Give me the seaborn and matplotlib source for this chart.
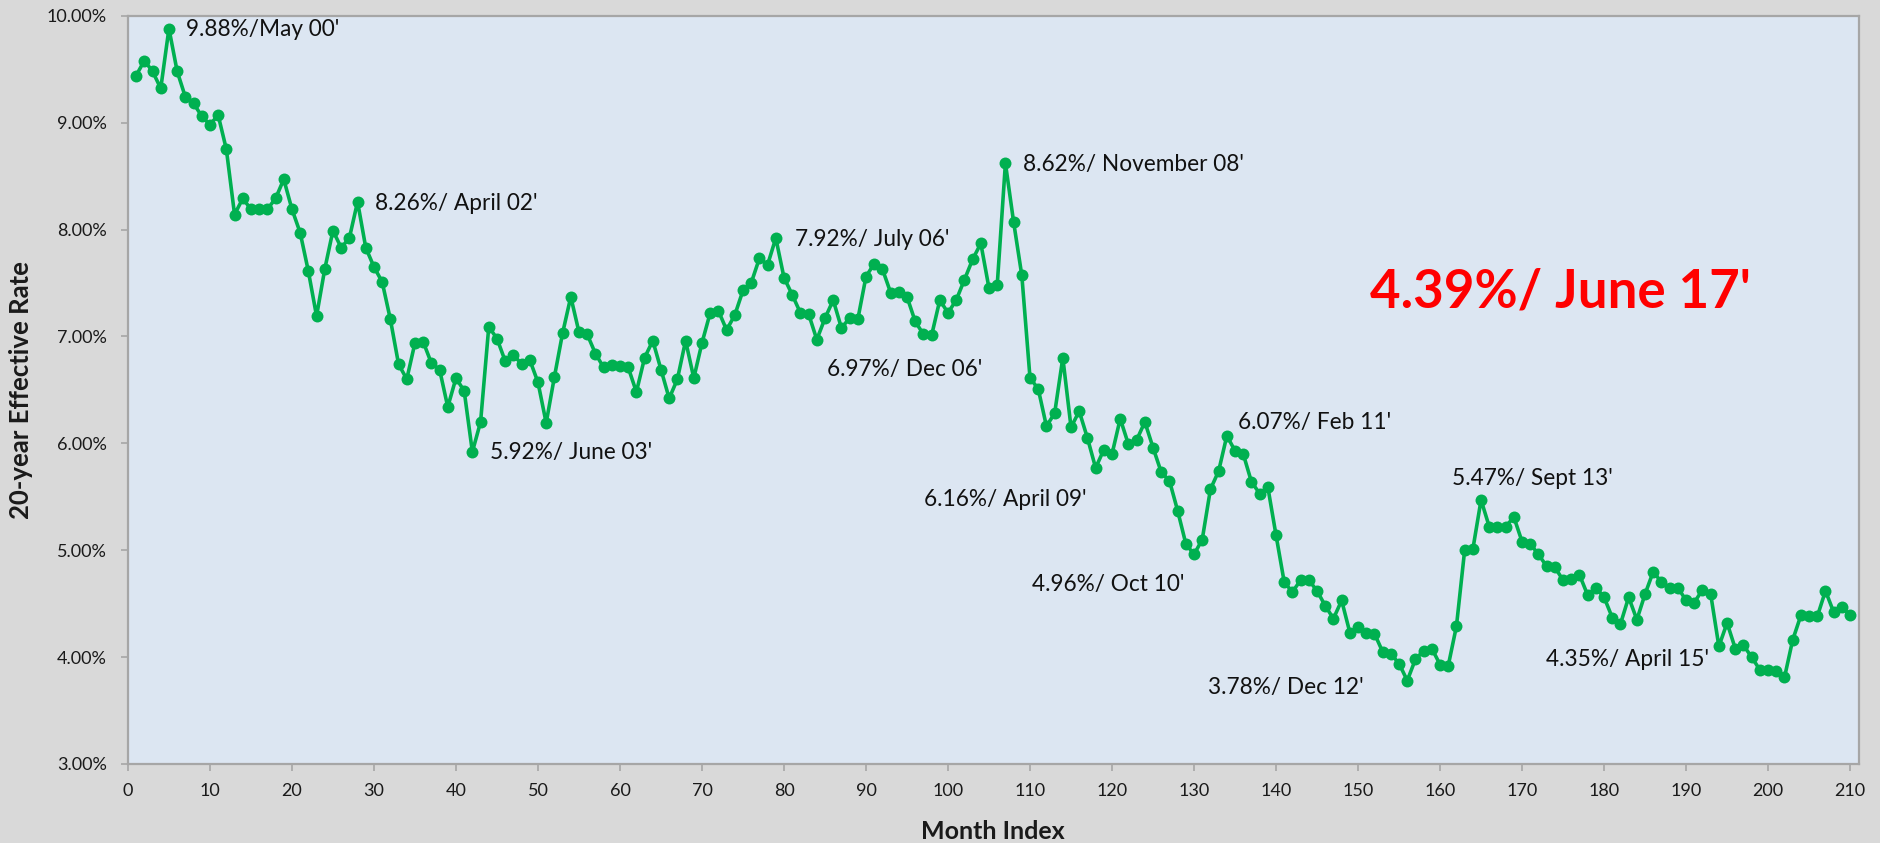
import matplotlib
matplotlib.use("Agg")
import matplotlib.pyplot as plt
import seaborn as sns
import numpy as np
import pandas as pd
from matplotlib.ticker import FuncFormatter

# ---------------- data ----------------
rates = [
    9.44, 9.58, 9.48, 9.32, 9.88, 9.48, 9.24, 9.18, 9.06, 8.98,
    9.07, 8.75, 8.14, 8.29, 8.19, 8.19, 8.19, 8.29, 8.47, 8.19,
    7.97, 7.61, 7.19, 7.63, 7.99, 7.83, 7.92, 8.26, 7.83, 7.65,
    7.51, 7.16, 6.74, 6.60, 6.94, 6.95, 6.75, 6.69, 6.34, 6.61,
    6.49, 5.92, 6.20, 7.09, 6.98, 6.77, 6.83, 6.74, 6.78, 6.57,
    6.19, 6.62, 7.03, 7.37, 7.04, 7.02, 6.84, 6.71, 6.73, 6.72,
    6.71, 6.48, 6.80, 6.96, 6.69, 6.42, 6.60, 6.96, 6.61, 6.94,
    7.22, 7.24, 7.06, 7.20, 7.43, 7.50, 7.73, 7.67, 7.92, 7.55,
    7.39, 7.22, 7.21, 6.97, 7.17, 7.34, 7.08, 7.17, 7.16, 7.56,
    7.68, 7.63, 7.41, 7.42, 7.37, 7.14, 7.02, 7.01, 7.34, 7.22,
    7.34, 7.53, 7.72, 7.87, 7.45, 7.48, 8.62, 8.07, 7.57, 6.61,
    6.51, 6.16, 6.28, 6.80, 6.15, 6.30, 6.05, 5.77, 5.94, 5.90,
    6.23, 5.99, 6.03, 6.20, 5.96, 5.73, 5.65, 5.37, 5.06, 4.96,
    5.10, 5.57, 5.74, 6.07, 5.93, 5.90, 5.64, 5.53, 5.59, 5.14,
    4.70, 4.61, 4.72, 4.72, 4.62, 4.48, 4.36, 4.53, 4.23, 4.28,
    4.23, 4.22, 4.05, 4.03, 3.94, 3.78, 3.98, 4.06, 4.08, 3.93,
    3.92, 4.29, 5.00, 5.01, 5.47, 5.22, 5.22, 5.22, 5.31, 5.08,
    5.06, 4.96, 4.85, 4.84, 4.72, 4.73, 4.77, 4.58, 4.65, 4.56,
    4.37, 4.31, 4.56, 4.35, 4.59, 4.80, 4.70, 4.65, 4.65, 4.53,
    4.51, 4.63, 4.59, 4.10, 4.32, 4.08, 4.11, 4.00, 3.88, 3.88,
    3.87, 3.81, 4.16, 4.39, 4.38, 4.38, 4.62, 4.42, 4.47, 4.39,
]
months = list(range(1, len(rates) + 1))

ann_texts = ["9.88%/May 00'", "8.26%/ April 02'", "5.92%/ June 03'",
             "7.92%/ July 06'", "6.97%/ Dec 06'", "8.62%/ November 08'",
             "6.16%/ April 09'", "4.96%/ Oct 10'", "6.07%/ Feb 11'",
             "3.78%/ Dec 12'", "5.47%/ Sept 13'", "4.35%/ April 15'"]
ann_x = [7.1, 30.1, 44.1, 81.3, 85.2, 109.2, 97.1, 110.3, 135.4, 131.7, 161.4, 172.9]
ann_y = [9.875, 8.24, 5.91, 7.91, 6.69, 8.61, 5.47, 4.675, 6.19, 3.715, 5.67, 3.98]

headline = "4.39%/ June 17'"
headline_x, headline_y = 151.5, 7.42

x_ticks = list(range(0, 211, 10))
y_ticks = [3, 4, 5, 6, 7, 8, 9, 10]

# ---------------- style ----------------
sns.set_theme(style="white")
plt.rcParams['font.family'] = ['Lato', 'DejaVu Sans']

W, H = 1881, 843
fig = plt.figure(figsize=(W / 100, H / 100), dpi=100, facecolor="#D9D9D9")
ax = fig.add_axes([127.7 / W, (H - 764) / H, (1858.7 - 127.7) / W, (764 - 15.7) / H])
ax.set_facecolor("#DCE6F2")

df = pd.DataFrame({"month": months, "rate": rates})
green = "#00B050"
sns.lineplot(data=df, x="month", y="rate", ax=ax, color=green, linewidth=2.6,
             marker="o", markersize=8.6, markeredgewidth=0, markerfacecolor=green)

ax.set_xlim(-0.03, 211.05)
ax.set_ylim(3, 10)
ax.set_xticks(x_ticks)
ax.set_yticks(y_ticks)
ax.yaxis.set_major_formatter(FuncFormatter(lambda v, p: f"{v:.2f}%"))

for s in ax.spines.values():
    s.set_color("#A6A6A6")
    s.set_linewidth(1.6)
ax.tick_params(axis="both", which="major", length=5, width=1.2, color="#A6A6A6",
               labelsize=13, labelcolor="#1a1a1a", direction="out")
ax.tick_params(axis="y", pad=10, left=True)
ax.tick_params(axis="x", pad=9, bottom=True)

ax.set_xlabel("Month Index", fontsize=18, fontweight="bold", color="#1a1a1a", labelpad=15)
ax.set_ylabel("20-year Effective Rate", fontsize=18.5, fontweight="bold", color="#1a1a1a", labelpad=10)

for t, x, y in zip(ann_texts, ann_x, ann_y):
    ax.text(x, y, t, fontsize=16.3, color="#111111", ha="left", va="center")

ax.text(headline_x, headline_y, headline, fontsize=38, fontweight="bold",
        color="#FF0000", ha="left", va="center")

fig.savefig("out.png", dpi=100, facecolor=fig.get_facecolor())
